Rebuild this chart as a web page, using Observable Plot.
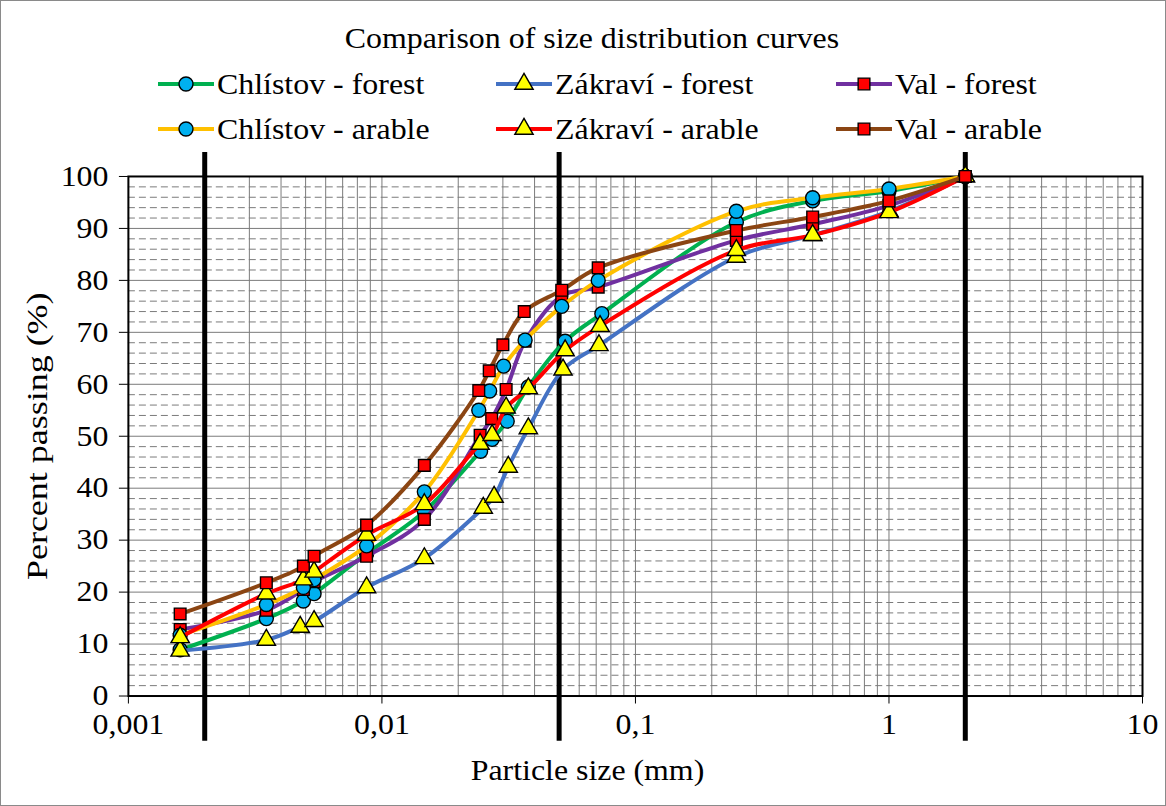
<!DOCTYPE html>
<html>
<head>
<meta charset="utf-8">
<script src="https://cdn.jsdelivr.net/npm/d3@7"></script>
<script src="https://cdn.jsdelivr.net/npm/@observablehq/plot@0.6"></script>
<style>
  body { margin: 0; background: white; }
  #chart { position: relative; width: 1166px; height: 806px; border: 1px solid #8a8a8a; box-sizing: border-box; background: white;
           font-family: "Liberation Serif", "Times New Roman", serif; color: black; overflow: hidden; }
  .stretch { position: absolute; display: inline-block; white-space: nowrap; line-height: 1; font-size: 29px; font-family: "Liberation Serif"; }
  #plot { position: absolute; left: -1px; top: 149px; }
</style>
</head>
<body>
<div id="chart">
  <div id="title" class="stretch"></div>
  <div id="legend"></div>
  <div id="plot"></div>
</div>
<script>
// ---- Data ----
const chartTitle = "Comparison of size distribution curves";
const xTitle = "Particle size (mm)";
const yTitle = "Percent passing (%)";

const seriesNames = ["Chlístov - forest", "Zákraví - forest", "Val - forest",
                     "Chlístov - arable", "Zákraví - arable", "Val - arable"];

const chlistovForestX = [0.0016, 0.0035, 0.0049, 0.0054, 0.0087, 0.0147, 0.0245, 0.0272, 0.0312, 0.0378, 0.0528, 0.0737, 0.25, 0.5, 1, 2];
const chlistovForestY = [8.9, 14.9, 18.3, 19.7, 27.4, 35.5, 47.1, 49.4, 52.9, 59.5, 68.3, 73.6, 91.2, 95.3, 97.2, 100];

const zakraviForestX = [0.0016, 0.0035, 0.00476, 0.0054, 0.0087, 0.0147, 0.0251, 0.0277, 0.0315, 0.0378, 0.0518, 0.0718, 0.25, 0.5, 1, 2];
const zakraviForestY = [8.7, 10.8, 13.3, 14.4, 20.9, 26.5, 36.2, 38.3, 44.1, 51.5, 62.8, 67.5, 84.5, 88.7, 93.3, 100];

const valForestX = [0.0016, 0.0035, 0.0049, 0.0054, 0.0087, 0.0147, 0.0244, 0.0271, 0.0309, 0.0367, 0.0512, 0.0713, 0.25, 0.5, 1, 2];
const valForestY = [12.8, 16.5, 20.5, 22.0, 26.9, 34.0, 50.2, 53.4, 59.0, 68.3, 77.0, 78.7, 87.7, 90.8, 94.4, 100];

const chlistovArableX = [0.0016, 0.0035, 0.0049, 0.0054, 0.0087, 0.0147, 0.0241, 0.0266, 0.0302, 0.0367, 0.0512, 0.0713, 0.25, 0.5, 1, 2];
const chlistovArableY = [11.7, 17.6, 20.9, 22.4, 28.9, 39.3, 55.0, 58.7, 63.5, 68.5, 75.0, 80.0, 93.3, 95.9, 97.6, 100];

const zakraviArableX = [0.0016, 0.0035, 0.0049, 0.0054, 0.0087, 0.0147, 0.0244, 0.0272, 0.0309, 0.0378, 0.0528, 0.0725, 0.25, 0.5, 1, 2];
const zakraviArableY = [11.3, 19.7, 22.4, 23.9, 31.0, 36.9, 48.5, 50.2, 55.5, 59.2, 66.5, 71.2, 85.8, 88.7, 93.1, 100];

const valArableX = [0.0016, 0.0035, 0.0049, 0.0054, 0.0087, 0.0147, 0.0241, 0.0265, 0.0300, 0.0364, 0.0512, 0.0713, 0.25, 0.5, 1, 2];
const valArableY = [15.8, 21.8, 25.0, 26.9, 32.9, 44.4, 58.8, 62.6, 67.6, 74.0, 78.1, 82.4, 89.6, 92.2, 95.3, 100];

const xTicks = [0.001, 0.01, 0.1, 1, 10];
const yTicks = [0, 10, 20, 30, 40, 50, 60, 70, 80, 90, 100];
const boundarySizes = [0.002, 0.05, 2];   // clay / silt / sand / gravel limits

// ---- Styles ----
const lineColors = ["#00B050", "#4472C4", "#7030A0", "#FFC000", "#FF0000", "#8B4513"];
const symbols = ["circle", "triangle", "square", "circle", "triangle", "square"];
const fills = { circle: "#00B0F0", triangle: "#FFFF00", square: "#FF0000" };
const radii = { circle: 7, triangle: 6.8, square: 6.6 };

const xs = [chlistovForestX, zakraviForestX, valForestX, chlistovArableX, zakraviArableX, valArableX];
const ys = [chlistovForestY, zakraviForestY, valForestY, chlistovArableY, zakraviArableY, valArableY];
const series = seriesNames.map((name, k) => ({
  name, color: lineColors[k], symbol: symbols[k],
  data: xs[k].map((x, i) => ({ x, y: ys[k][i] }))
}));

// grid positions
const xGrid = [];
[0.001, 0.01, 0.1, 1].forEach(d => { for (let m = 1; m <= 9; m++) xGrid.push(+(d * m).toPrecision(3)); });
const yMajor = d3.range(10, 100, 10);
const yMinor = d3.range(2, 100, 2).filter(v => v % 10 !== 0);

const marks = [
  Plot.ruleX(xGrid, { stroke: "#7a7a7a", strokeWidth: 1 }),
  Plot.ruleY(yMinor, { stroke: "#7a7a7a", strokeWidth: 1, strokeDasharray: "7,4" }),
  Plot.ruleY(yMajor, { stroke: "#7a7a7a", strokeWidth: 1 }),
  Plot.frame({ stroke: "black", strokeWidth: 2 }),
  Plot.ruleX(boundarySizes, { y1: -8.7, y2: 104.6, stroke: "black", strokeWidth: 5 }),
  Plot.axisY({ ticks: yTicks, tickSize: 9, tickPadding: 11, label: null, tickFormat: d => String(d) }),
  Plot.axisX({ ticks: xTicks, tickSize: 8, tickPadding: 9, label: null, tickFormat: d => String(d).replace(".", ",") }),
  Plot.text([yTitle], { frameAnchor: "left", dx: -91, rotate: -90, fontSize: 30, textAnchor: "middle" }),
  Plot.text([xTitle], { frameAnchor: "bottom", dx: -48, dy: 84, fontSize: 29, textAnchor: "middle" })
];
series.forEach(s => {
  marks.push(Plot.line(s.data, { x: "x", y: "y", stroke: s.color, strokeWidth: 4, curve: "catmull-rom" }));
  marks.push(Plot.dot(s.data, { x: "x", y: "y", symbol: s.symbol, r: radii[s.symbol], fill: fills[s.symbol], stroke: "black", strokeWidth: 1.4 }));
});

const plot = Plot.plot({
  width: 1166, height: 656,
  marginTop: 26, marginBottom: 110, marginLeft: 128, marginRight: 23,
  x: { type: "log", domain: [0.001, 10] },
  y: { domain: [0, 100] },
  style: { fontFamily: "'Liberation Serif', 'Times New Roman', serif", fontSize: "29px", color: "black", background: "transparent", overflow: "visible" },
  marks
});

// horizontal stretch of texts (the reference's type is slightly wide)
plot.querySelectorAll("text").forEach(t => {
  const tr = t.getAttribute("transform");
  const rotated = tr && tr.includes("rotate");
  const sx = rotated ? 1.2 : 1.1;
  if (tr) t.setAttribute("transform", tr + ` scale(${sx},1)`);
});
document.getElementById("plot").appendChild(plot);

// ---- Title ----
const titleEl = document.getElementById("title");
titleEl.textContent = chartTitle;
titleEl.style.left = "591px";
titleEl.style.top = "37px";
titleEl.style.transform = "translate(-50%,-50%) scaleX(1.1)";
titleEl.style.transformOrigin = "center center";

// ---- Legend ----
const legend = document.getElementById("legend");
const colX = [158, 496, 836];
const rowY = [84, 129];
series.forEach((s, k) => {
  const col = k % 3, row = Math.floor(k / 3);
  const lx = colX[col] - 1, ly = rowY[row] - 1;
  const svgNS = "http://www.w3.org/2000/svg";
  const svg = document.createElementNS(svgNS, "svg");
  svg.setAttribute("width", 58); svg.setAttribute("height", 24);
  svg.style.position = "absolute"; svg.style.left = lx + "px"; svg.style.top = (ly - 12) + "px";
  const ln = document.createElementNS(svgNS, "line");
  ln.setAttribute("x1", 0); ln.setAttribute("x2", 56); ln.setAttribute("y1", 12); ln.setAttribute("y2", 12);
  ln.setAttribute("stroke", s.color); ln.setAttribute("stroke-width", 4);
  svg.appendChild(ln);
  const sym = document.createElementNS(svgNS, "path");
  const size = Math.PI * radii[s.symbol] ** 2;
  const gen = s.symbol === "circle" ? d3.symbolCircle : s.symbol === "triangle" ? d3.symbolTriangle : d3.symbolSquare;
  sym.setAttribute("d", d3.symbol(gen, size)());
  sym.setAttribute("transform", "translate(28,12)");
  sym.setAttribute("fill", fills[s.symbol]); sym.setAttribute("stroke", "black"); sym.setAttribute("stroke-width", 1.4);
  svg.appendChild(sym);
  legend.appendChild(svg);
  const tx = document.createElement("div");
  tx.className = "stretch";
  tx.textContent = s.name;
  tx.style.left = (colX[col] + 59 - 1) + "px";
  tx.style.top = ly + "px";
  tx.style.transform = "translateY(-50%) scaleX(1.1)";
  tx.style.transformOrigin = "left center";
  legend.appendChild(tx);
});
</script>
</body>
</html>
